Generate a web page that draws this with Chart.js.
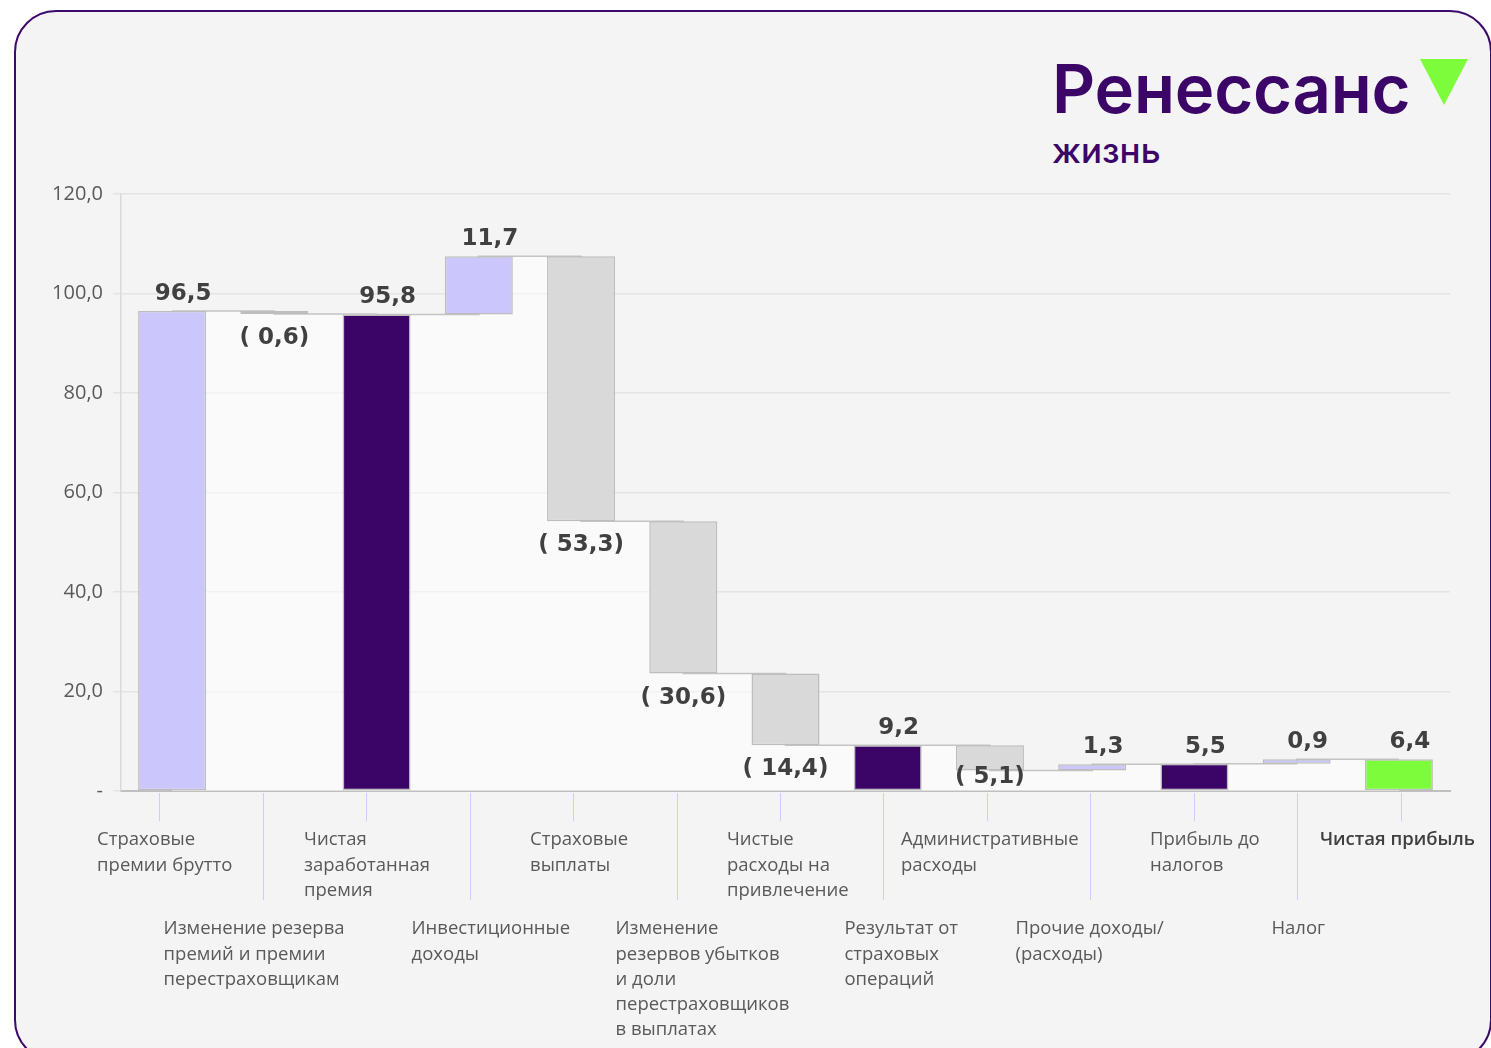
<!DOCTYPE html>
<html lang="ru">
<head>
<meta charset="utf-8">
<title>Ренессанс жизнь — финансовый результат</title>
<script src="https://cdn.jsdelivr.net/npm/chart.js@4.4.1/dist/chart.umd.min.js"></script>
<style>
    html, body { margin: 0; padding: 0; background: #ffffff; overflow: hidden; }
    body { width: 1491px; height: 1048px; position: relative; }
    .card {
        position: absolute; left: 14px; top: 10px; width: 1478px; height: 1052px;
        box-sizing: border-box; border: 2.5px solid #3b0a6b; border-radius: 42px;
        background: #f4f4f4;
    }
    .logo { position: absolute; left: 1052px; top: 50px; color: #3b0667; font-family: Inter, "Noto Sans", sans-serif; }
    .logo .name { font-size: 67px; font-weight: 600; line-height: 78px; letter-spacing: -0.2px; }
    .logo .sub { font-size: 35px; font-weight: 500; line-height: 36px; margin-top: 4px; }
    .logo svg { position: absolute; left: 368px; top: 9px; }
    #chart { position: absolute; left: 0; top: 0; }
</style>
</head>
<body>
<div class="card"></div>
<div class="logo">
    <div class="name">Ренессанс</div>
    <div class="sub">жизнь</div>
    <svg width="48" height="46" viewBox="0 0 48 46"><polygon points="0,0 48,0 24,46" fill="#7cfc3a"/></svg>
</div>
<canvas id="chart" width="1491" height="1048"></canvas>
<script>
(function () {
    'use strict';

    // Categories (label lines as shown under the axis).
    var categories = [
        ['Страховые', 'премии брутто'],
        ['Изменение резерва', 'премий и премии', 'перестраховщикам'],
        ['Чистая', 'заработанная', 'премия'],
        ['Инвестиционные', 'доходы'],
        ['Страховые', 'выплаты'],
        ['Изменение', 'резервов убытков', 'и доли', 'перестраховщиков', 'в выплатах'],
        ['Чистые', 'расходы на', 'привлечение'],
        ['Результат от', 'страховых', 'операций'],
        ['Административные', 'расходы'],
        ['Прочие доходы/', '(расходы)'],
        ['Прибыль до', 'налогов'],
        ['Налог'],
        ['Чистая прибыль']
    ];

    // Values (negative = decrease).
    var values = [96.5, -0.6, 95.8, 11.7, -53.3, -30.6, -14.4, 9.2, -5.1, 1.3, 5.5, 0.9, 6.4];

    // 'total' bars stand on zero, 'step' bars float on the running level.
    var kinds = ['total', 'step', 'total', 'step', 'step', 'step', 'step', 'total', 'step', 'step', 'total', 'step', 'total'];

    var yTicks = [0, 20, 40, 60, 80, 100, 120];

    var LAVENDER = '#cbc6fc';
    var PURPLE = '#3a0566';
    var GREY = '#d9d9d9';
    var GREEN = '#7cfc3a';

    // How far each label block starts left of its leader line (px).
    var labelIndent = [62, 99, 62, 58, 43, 61, 53, 39, 86, 75, 44, 26, 81];

    // Build floating ranges and connector levels.
    var floating = [];
    var levels = [];
    var level = 0;
    values.forEach(function (v, i) {
        if (kinds[i] === 'total') {
            floating.push([0, v]);
            level = v;
        } else {
            var next = Math.round((level + v) * 10) / 10;
            floating.push([level, next]);
            level = next;
        }
        levels.push(level);
    });

    var colors = values.map(function (v, i) {
        if (i === 0) {
            return LAVENDER;
        }
        if (kinds[i] === 'total') {
            return i === values.length - 1 ? GREEN : PURPLE;
        }
        return v >= 0 ? LAVENDER : GREY;
    });

    function fmt(v) {
        return v.toFixed(1).replace('.', ',');
    }

    // Value labels above/below each bar.
    var valueLabels = {
        id: 'valueLabels',
        afterDatasetsDraw: function (chart) {
            var ctx = chart.ctx;
            var meta = chart.getDatasetMeta(1);
            var y = chart.scales.y;
            ctx.save();
            ctx.font = 'bold 23px "DejaVu Sans"';
            ctx.fillStyle = '#404040';
            ctx.textAlign = 'center';
            ctx.textBaseline = 'middle';
            meta.data.forEach(function (bar, i) {
                var r = floating[i];
                var top = y.getPixelForValue(Math.max(r[0], r[1]));
                var bottom = y.getPixelForValue(Math.min(r[0], r[1]));
                if (values[i] >= 0) {
                    ctx.fillText(fmt(values[i]), bar.x + 11, top - 17);
                } else {
                    ctx.fillText('( ' + fmt(-values[i]) + ')', bar.x, Math.min(bottom + 24, chart.chartArea.bottom - 14));
                }
            });
            ctx.restore();
        }
    };

    // Category labels on two alternating rows with leader lines.
    var categoryLabels = {
        id: 'categoryLabels',
        afterDraw: function (chart) {
            var ctx = chart.ctx;
            var x = chart.scales.x;
            var base = chart.chartArea.bottom;
            var lineH = 25.3;
            ctx.save();
            categories.forEach(function (lines, i) {
                var lead = x.getPixelForValue(i) - 13 + i * 1.25;
                var upper = i % 2 === 0;
                ctx.strokeStyle = '#cfcbfa';
                ctx.lineWidth = 1;
                ctx.beginPath();
                ctx.moveTo(Math.round(lead) + 0.5, base + 2);
                ctx.lineTo(Math.round(lead) + 0.5, upper ? base + 30 : base + 109);
                ctx.stroke();

                var last = i === categories.length - 1;
                ctx.font = (last ? '600 ' : '') + '18.5px "Open Sans"';
                ctx.fillStyle = last ? '#404040' : '#595959';
                ctx.textAlign = 'left';
                ctx.textBaseline = 'middle';
                var left = lead - labelIndent[i];
                var y0 = upper ? base + 49 : base + 138;
                lines.forEach(function (t, k) {
                    ctx.fillText(t, left, y0 + k * lineH);
                });
            });
            ctx.restore();
        }
    };

    new Chart(document.getElementById('chart').getContext('2d'), {
        data: {
            labels: categories.map(function (c) { return c.join(' '); }),
            datasets: [{
                type: 'line',
                data: levels,
                stepped: 'before',
                fill: 'origin',
                backgroundColor: 'rgba(255, 255, 255, 0.5)',
                borderColor: '#c4c4c4',
                borderWidth: 1.5,
                pointRadius: 0,
                order: 2
            }, {
                type: 'bar',
                data: floating,
                backgroundColor: colors,
                borderColor: '#bdbdbd',
                borderWidth: 1.5,
                borderSkipped: false,
                categoryPercentage: 1,
                barPercentage: 0.665,
                order: 1
            }]
        },
        options: {
            responsive: false,
            animation: false,
            devicePixelRatio: 1,
            layout: {
                padding: { top: 194, right: 41, bottom: 257, left: 0 }
            },
            plugins: {
                legend: { display: false },
                tooltip: { enabled: false }
            },
            scales: {
                x: {
                    offset: true,
                    grid: { display: false },
                    ticks: { display: false },
                    border: { color: '#bfbfbf', width: 2 },
                    afterFit: function (scale) { scale.height = 0; }
                },
                y: {
                    min: 0,
                    max: 120,
                    afterBuildTicks: function (scale) {
                        scale.ticks = yTicks.map(function (v) { return { value: v }; });
                    },
                    grid: { color: '#e4e4e4', lineWidth: 1.5, tickLength: 8 },
                    border: { color: '#d9d9d9', width: 1.5 },
                    ticks: {
                        padding: 10,
                        color: '#595959',
                        font: { family: '"Open Sans"', size: 20 },
                        callback: function (v) { return v === 0 ? '-' : fmt(v); }
                    },
                    afterFit: function (scale) { scale.width = 121; }
                }
            }
        },
        plugins: [valueLabels, categoryLabels]
    });
})();
</script>
</body>
</html>
